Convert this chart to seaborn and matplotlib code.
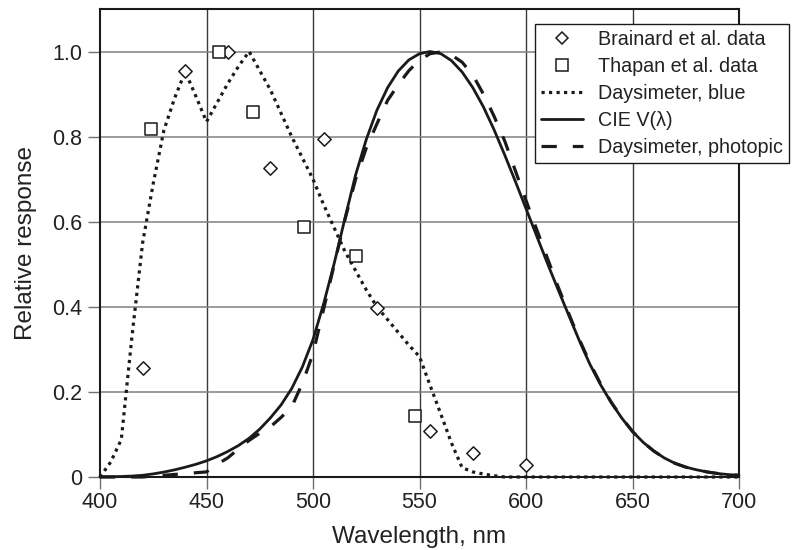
import numpy as np
import pandas as pd
import matplotlib
matplotlib.use("Agg")
import matplotlib.pyplot as plt
from matplotlib.lines import Line2D
import seaborn as sns

# ---------------- data ----------------
brainard_wl = [420, 440, 460, 480, 505, 530, 555, 575, 600]
brainard_val = [0.256, 0.955, 1.0, 0.726, 0.795, 0.397, 0.107, 0.056, 0.028]

thapan_wl = [424, 456, 472, 496, 520, 548]
thapan_val = [0.817, 1.0, 0.858, 0.588, 0.520, 0.144]

blue_wl = [400, 405, 410, 415, 420, 425, 430, 435, 440, 445, 450, 455, 460, 465,
           470, 475, 480, 485, 490, 495, 500, 505, 510, 515, 520, 525, 530, 535,
           540, 545, 550, 555, 560, 565, 570, 575, 580, 585, 590, 600, 650, 700]
blue_val = [0.0, 0.035, 0.088, 0.33, 0.55, 0.69, 0.815, 0.89, 0.953, 0.895, 0.835,
            0.88, 0.925, 0.965, 1.0, 0.955, 0.91, 0.855, 0.80, 0.75, 0.70, 0.64,
            0.585, 0.53, 0.485, 0.44, 0.40, 0.37, 0.34, 0.31, 0.283, 0.215, 0.148,
            0.08, 0.022, 0.012, 0.007, 0.003, 0.0, 0.0, 0.0, 0.0]

cie_wl = list(range(400, 701, 5))
cie_val = [0.0004, 0.0006, 0.0012, 0.0022, 0.004, 0.0073, 0.0116, 0.0168, 0.023,
           0.0298, 0.038, 0.048, 0.06, 0.0739, 0.091, 0.1126, 0.139, 0.1693,
           0.208, 0.2586, 0.323, 0.4073, 0.503, 0.6082, 0.71, 0.7932, 0.862,
           0.9149, 0.954, 0.9803, 0.995, 1.0, 0.995, 0.9786, 0.952, 0.9154, 0.87,
           0.8163, 0.757, 0.6949, 0.631, 0.5668, 0.503, 0.4412, 0.381, 0.321,
           0.265, 0.217, 0.175, 0.1382, 0.107, 0.0816, 0.061, 0.0446, 0.032,
           0.0232, 0.017, 0.0119, 0.0082, 0.0057, 0.0041]

phot_wl = list(range(400, 701, 5))
phot_val = [0.0, 0.0, 0.0, 0.0, 0.0, 0.002, 0.004, 0.006, 0.008, 0.010, 0.012,
            0.030, 0.045, 0.066, 0.086, 0.103, 0.118, 0.140, 0.165, 0.22, 0.29,
            0.395, 0.50, 0.605, 0.70, 0.773, 0.83, 0.885, 0.922, 0.955, 0.98,
            0.995, 0.999, 0.992, 0.975, 0.945, 0.90, 0.848, 0.79, 0.72, 0.65,
            0.582, 0.515, 0.448, 0.385, 0.324, 0.268, 0.219, 0.176, 0.139, 0.107,
            0.0816, 0.061, 0.0446, 0.032, 0.0232, 0.017, 0.0119, 0.0082, 0.0057,
            0.0041]

x_ticks = [400, 450, 500, 550, 600, 650, 700]
y_ticks = [0, 0.2, 0.4, 0.6, 0.8, 1.0]
y_ticklabels = ["0", "0.2", "0.4", "0.6", "0.8", "1.0"]

labels = ["Brainard et al. data", "Thapan et al. data", "Daysimeter, blue",
          "CIE V(\u03bb)", "Daysimeter, photopic"]

# ---------------- plot ----------------
sns.set_theme(style="white")
plt.rcParams["font.family"] = ["Liberation Sans", "DejaVu Sans"]

ink = "#1a1a1a"
fig = plt.figure(figsize=(7.99, 5.5), dpi=100)
ax = fig.add_axes([100 / 799, 1 - 477 / 550, 639 / 799, 468 / 550])

df_blue = pd.DataFrame({"wl": blue_wl, "val": blue_val})
df_cie = pd.DataFrame({"wl": cie_wl, "val": cie_val})
df_phot = pd.DataFrame({"wl": phot_wl, "val": phot_val})
df_br = pd.DataFrame({"wl": brainard_wl, "val": brainard_val})
df_th = pd.DataFrame({"wl": thapan_wl, "val": thapan_val})

dot_style = (0, (1.0, 1.35))
dash_style = (0, (4.8, 5.0))

sns.lineplot(data=df_blue, x="wl", y="val", ax=ax, color=ink, lw=2.3,
             linestyle=dot_style, dash_capstyle="butt", clip_on=False, zorder=3)
sns.lineplot(data=df_cie, x="wl", y="val", ax=ax, color=ink, lw=2.0,
             clip_on=False, zorder=3)
sns.lineplot(data=df_phot, x="wl", y="val", ax=ax, color=ink, lw=2.3,
             linestyle=dash_style, dash_capstyle="butt", clip_on=False, zorder=3)
sns.scatterplot(data=df_br, x="wl", y="val", ax=ax, marker="D", s=46,
                facecolor="white", edgecolor=ink, linewidth=1.1, zorder=4,
                clip_on=False)
sns.scatterplot(data=df_th, x="wl", y="val", ax=ax, marker="s", s=70,
                facecolor="white", edgecolor=ink, linewidth=1.1, zorder=4,
                clip_on=False)

ax.set_xlim(400, 700)
ax.set_ylim(0, 1.1)
ax.set_xticks(x_ticks)
ax.set_xticklabels([str(t) for t in x_ticks])
ax.set_yticks(y_ticks)
ax.set_yticklabels(y_ticklabels)

# grid
for t in x_ticks[1:-1]:
    ax.axvline(t, color="#3a3a3a", lw=1.0, zorder=1)
for t in y_ticks[1:]:
    ax.axhline(t, color="#808080", lw=1.1, zorder=1)

ax.tick_params(axis="both", which="both", direction="out", length=8.5,
               width=1.0, color="#707070", labelsize=15.5, labelcolor="#222222")
ax.tick_params(axis="x", bottom=True, pad=2)
ax.tick_params(axis="y", left=True, pad=4.5)

for sp in ax.spines.values():
    sp.set_color(ink)
    sp.set_linewidth(1.5)
    sp.set_visible(True)

ax.set_xlabel("Wavelength, nm", fontsize=17.5, color="#222222", labelpad=10)
ax.set_ylabel("Relative response", fontsize=17.5, color="#222222", labelpad=11)

handles = [
    Line2D([], [], marker="D", markersize=6.6, markerfacecolor="white",
           markeredgecolor=ink, markeredgewidth=1.1, linestyle="none"),
    Line2D([], [], marker="s", markersize=8.2, markerfacecolor="white",
           markeredgecolor=ink, markeredgewidth=1.1, linestyle="none"),
    Line2D([], [], color=ink, lw=2.3, linestyle=dot_style, dash_capstyle="butt"),
    Line2D([], [], color=ink, lw=2.0),
    Line2D([], [], color=ink, lw=2.3, linestyle=dash_style, dash_capstyle="butt"),
]
leg = fig.legend(handles, labels, loc="upper left",
                 bbox_to_anchor=(535 / 799, 1 - 24 / 550),
                 bbox_transform=fig.transFigure, fontsize=14.2,
                 frameon=True, fancybox=False, edgecolor=ink,
                 framealpha=1.0, handlelength=2.1, handletextpad=0.76,
                 labelspacing=0.40, borderpad=0.32, borderaxespad=0)
leg.get_frame().set_linewidth(1.0)
for txt in leg.get_texts():
    txt.set_color("#222222")

fig.savefig("out.png", dpi=100)
